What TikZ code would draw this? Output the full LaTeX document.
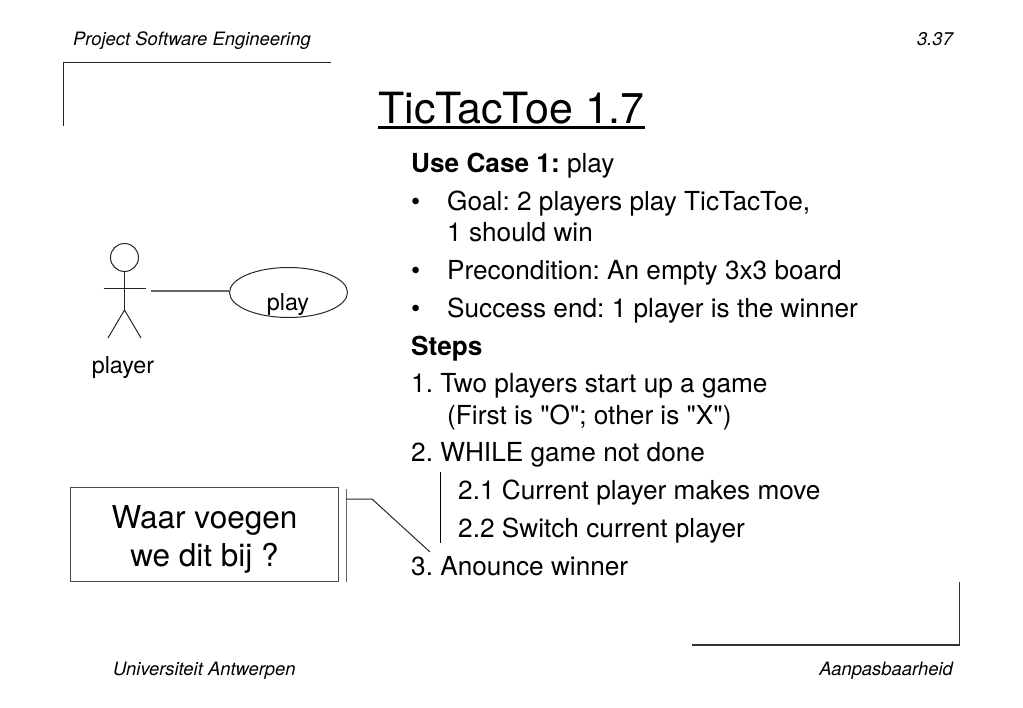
\documentclass[tikz,border=0pt]{standalone}
\usepackage{fontspec}
\usetikzlibrary{shapes.geometric}
\setmainfont{TeX Gyre Heros}
\newfontfamily\plainf{TeX Gyre Heros}
\frenchspacing
\tikzset{
  x=1pt,y=-1pt,
  body/.style={anchor=base west,inner sep=0pt,font=\fontsize{26.2}{30}\selectfont},
  small/.style={inner sep=0pt,font=\fontsize{18.4}{22}\itshape\selectfont},
  lbl/.style={inner sep=0pt,font=\fontsize{23.3}{27}\selectfont},
  thin line/.style={line width=1pt,black!85},
  corner line/.style={line width=1.3pt,black!80},
  gray line/.style={line width=1.4pt,black!60},
}
\begin{document}
\begin{tikzpicture}
\useasboundingbox (0,0) rectangle (1023,708);
% header / footer
\node[small,anchor=base west] (hdl) at (73,46) {Project Software Engineering};
\node[small,anchor=base east] (hdr) at (953,46) {3.37};
\node[small,anchor=base west] (ftl) at (113,675) {Universiteit Antwerpen};
\node[small,anchor=base east] (ftr) at (953,675) {Aanpasbaarheid};
% corners
\draw[thin line] (63,126) -- (63,63) -- (331,63);
\draw[corner line] (959.7,582) -- (959.7,645) -- (692,645);
% title
\node[inner sep=0pt,anchor=base,font=\fontsize{43}{50}\selectfont] (title) at (511.5,123.7) {TicTacToe 1.7};
\draw[line width=2.6pt] (title.base west |- 0,127.5) -- (title.base east |- 0,127.5);
% body text
\node[body] (t1) at (411,172.7) {\textbf{Use Case 1:} play};
\node[body] (b1) at (411,210.7) {•};
\node[body] (t2) at (447,210.7) {Goal: 2 players play TicTacToe,};
\node[body] (t3) at (447,241.7) {1 should win};
\node[body] (b2) at (411,279.7) {•};
\node[body] (t4) at (447,279.7) {Precondition: An empty 3x3 board};
\node[body] (b3) at (411,317.7) {•};
\node[body] (t5) at (447,317.7) {Success end: 1 player is the winner};
\node[body] (t6) at (411,355.7) {\textbf{Steps}};
\node[body] (t7) at (411,392.7) {1. Two players start up a game};
\node[body] (t8) at (447,424.7) {\plainf (First is "O"; other is "X")};
\node[body] (t9) at (411,461.7) {2. WHILE game not done};
\node[body] (t10) at (458,499.7) {2.1 Current player makes move};
\node[body] (t11) at (458,537.7) {2.2 Switch current player};
\node[body] (t12) at (411,575.7) {3. Anounce winner};
\draw[line width=1pt,black] (440.5,472) -- (440.5,543);
% actor
\node[circle,draw,thin line,minimum size=28pt,inner sep=0pt] (head) at (124.5,257.5) {};
\coordinate (hip) at (124.5,310);
\coordinate (armL) at (103.5,289);
\coordinate (armR) at (145.5,289);
\coordinate (footL) at (108,338);
\coordinate (footR) at (141,338);
\draw[thin line] (head.south) -- (hip);
\draw[thin line] (armL) -- (armR);
\draw[thin line] (footL) -- (hip) -- (footR);
\node[lbl,anchor=base] (player) at (123,374) {player};
% use case
\node[ellipse,draw,thin line,minimum width=118pt,minimum height=50pt,inner sep=0pt] (uc) at (288.5,292.5) {};
\node[lbl,anchor=base] (play) at (288,310.7) {play};
\coordinate (assoc) at (151,291);
\draw[gray line] (assoc) -- (uc.west |- assoc);
% note
\node[draw,line width=1.2pt,black!70,minimum width=268pt,minimum height=94pt,inner sep=0pt] (note) at (204.5,534.5) {};
\node[inner sep=0pt,anchor=base,font=\fontsize{31.5}{38}\selectfont] (note1) at (204.5,528) {Waar voegen};
\node[inner sep=0pt,anchor=base,font=\fontsize{31.5}{38}\selectfont] (note2) at (204.5,566) {we dit bij ?};
\coordinate (barT) at (346,489);
\coordinate (barB) at (346,582);
\coordinate (knee) at (372,499);
\coordinate (tip) at (430,552);
\coordinate (barM) at (346,499);
\draw[line width=1pt,black!60] (barT) -- (barB);
\draw[line width=1pt,black!85] (barM) -- (knee) -- (tip);
\end{tikzpicture}
\end{document}
